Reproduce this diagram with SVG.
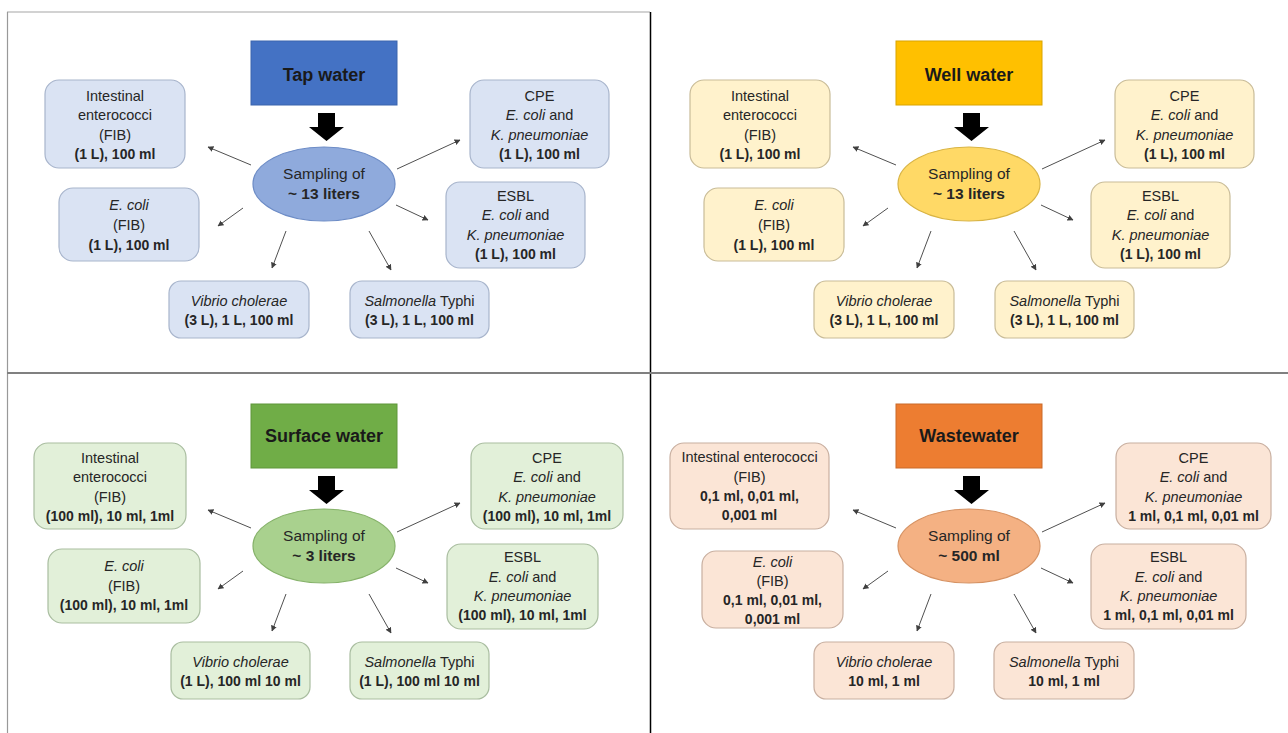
<svg xmlns="http://www.w3.org/2000/svg" width="1288" height="733" viewBox="0 0 1288 733">
<defs>
<marker id="ah" viewBox="0 0 10 10" refX="9" refY="5" markerWidth="6" markerHeight="6" markerUnits="userSpaceOnUse" orient="auto">
<path d="M0,0 L10,5 L0,10 z" fill="#404040"/>
</marker>
<style>
text{font-family:"Liberation Sans",Arial,sans-serif;fill:#262626;text-anchor:middle}
.r{font-size:14.5px}
.b{font-size:14px;font-weight:bold}
.i{font-style:italic}
.t{font-size:18px;font-weight:bold;fill:#1a1a1a}
.e{font-size:15.5px}
.eb{font-size:15.5px;font-weight:bold}
.conn line{stroke:#505050;stroke-width:1;marker-end:url(#ah)}
.blk{fill:#000}
.tap .bx{fill:#dae3f3;stroke:#a8b5cc;stroke-width:1.2}
.tap .ti{fill:#4472c4;stroke:#3b64ad;stroke-width:1}
.tap .el{fill:#8faadc;stroke:#6d8cc6;stroke-width:1.2}
.well .bx{fill:#fff2cc;stroke:#c9bc98;stroke-width:1.2}
.well .ti{fill:#ffc000;stroke:#d9a400;stroke-width:1}
.well .el{fill:#ffd966;stroke:#d9b444;stroke-width:1.2}
.surf .bx{fill:#e2f0d9;stroke:#a9bda0;stroke-width:1.2}
.surf .ti{fill:#70ad47;stroke:#5f963b;stroke-width:1}
.surf .el{fill:#a9d18e;stroke:#86b26a;stroke-width:1.2}
.wast .bx{fill:#fbe5d6;stroke:#c8afa0;stroke-width:1.2}
.wast .ti{fill:#ed7d31;stroke:#c96a2a;stroke-width:1}
.wast .el{fill:#f4b183;stroke:#d69263;stroke-width:1.2}
</style>
</defs>
<rect width="1288" height="733" fill="#fff"/>
<g id="frame">
<line x1="7" y1="12" x2="650" y2="12" stroke="#a6a6a6" stroke-width="1.2"/>
<line x1="7.5" y1="12" x2="7.5" y2="733" stroke="#999" stroke-width="1.2"/>
<line x1="650.5" y1="12" x2="650.5" y2="733" stroke="#000" stroke-width="1.5"/>
<line x1="7" y1="373" x2="1288" y2="373" stroke="#808080" stroke-width="2"/>
</g>

<!-- Tap water -->
<g id="tap" class="tap">
<g class="conn" id="tap-connectors">
<line x1="251" y1="165" x2="208" y2="147"/>
<line x1="243" y1="208" x2="218" y2="226"/>
<line x1="286" y1="231" x2="272" y2="268"/>
<line x1="369" y1="231" x2="391" y2="270"/>
<line x1="396" y1="205" x2="428" y2="220"/>
<line x1="397" y1="169" x2="460" y2="140"/>
<polygon class="blk" points="318,113 335,113 335,127 344,127 326.5,141 309,127 318,127"/>
</g>
<g id="tap-title"><rect class="ti" x="251" y="41" width="146" height="64"/><text class="t" x="324" y="81">Tap water</text></g>
<g id="tap-sampling"><ellipse class="el" cx="324" cy="184" rx="71" ry="37"/><text class="e" x="324" y="179">Sampling of</text><text class="eb" x="324" y="199">~ 13 liters</text></g>
<g id="tap-ie"><rect class="bx" x="45" y="80" width="140" height="88" rx="14"/><text class="r" x="115" y="101">Intestinal</text><text class="r" x="115" y="120">enterococci</text><text class="r" x="115" y="140">(FIB)</text><text class="b" x="115" y="159">(1 L), 100 ml</text></g>
<g id="tap-ecoli"><rect class="bx" x="59" y="188" width="140" height="73" rx="14"/><text class="r i" x="129" y="210">E. coli</text><text class="r" x="129" y="230">(FIB)</text><text class="b" x="129" y="250">(1 L), 100 ml</text></g>
<g id="tap-vibrio"><rect class="bx" x="169" y="281" width="140" height="57" rx="12"/><text class="r i" x="239" y="306">Vibrio cholerae</text><text class="b" x="239" y="325">(3 L), 1 L, 100 ml</text></g>
<g id="tap-salmonella"><rect class="bx" x="350" y="281" width="139" height="57" rx="12"/><text class="r" x="419.5" y="306"><tspan class="i">Salmonella</tspan> Typhi</text><text class="b" x="419.5" y="325">(3 L), 1 L, 100 ml</text></g>
<g id="tap-cpe"><rect class="bx" x="470" y="80" width="139" height="88" rx="14"/><text class="r" x="539.5" y="101">CPE</text><text class="r" x="539.5" y="120"><tspan class="i">E. coli</tspan> and</text><text class="r i" x="539.5" y="140">K. pneumoniae</text><text class="b" x="539.5" y="159">(1 L), 100 ml</text></g>
<g id="tap-esbl"><rect class="bx" x="446" y="182" width="139" height="86" rx="14"/><text class="r" x="515.5" y="201">ESBL</text><text class="r" x="515.5" y="220"><tspan class="i">E. coli</tspan> and</text><text class="r i" x="515.5" y="240">K. pneumoniae</text><text class="b" x="515.5" y="259">(1 L), 100 ml</text></g>
</g>

<!-- Well water -->
<g id="well" class="well" transform="translate(645,0)">
<g class="conn" id="well-connectors">
<line x1="251" y1="165" x2="208" y2="147"/>
<line x1="243" y1="208" x2="218" y2="226"/>
<line x1="286" y1="231" x2="272" y2="268"/>
<line x1="369" y1="231" x2="391" y2="270"/>
<line x1="396" y1="205" x2="428" y2="220"/>
<line x1="397" y1="169" x2="460" y2="140"/>
<polygon class="blk" points="318,113 335,113 335,127 344,127 326.5,141 309,127 318,127"/>
</g>
<g id="well-title"><rect class="ti" x="251" y="41" width="146" height="64"/><text class="t" x="324" y="81">Well water</text></g>
<g id="well-sampling"><ellipse class="el" cx="324" cy="184" rx="71" ry="37"/><text class="e" x="324" y="179">Sampling of</text><text class="eb" x="324" y="199">~ 13 liters</text></g>
<g id="well-ie"><rect class="bx" x="45" y="80" width="140" height="88" rx="14"/><text class="r" x="115" y="101">Intestinal</text><text class="r" x="115" y="120">enterococci</text><text class="r" x="115" y="140">(FIB)</text><text class="b" x="115" y="159">(1 L), 100 ml</text></g>
<g id="well-ecoli"><rect class="bx" x="59" y="188" width="140" height="73" rx="14"/><text class="r i" x="129" y="210">E. coli</text><text class="r" x="129" y="230">(FIB)</text><text class="b" x="129" y="250">(1 L), 100 ml</text></g>
<g id="well-vibrio"><rect class="bx" x="169" y="281" width="140" height="57" rx="12"/><text class="r i" x="239" y="306">Vibrio cholerae</text><text class="b" x="239" y="325">(3 L), 1 L, 100 ml</text></g>
<g id="well-salmonella"><rect class="bx" x="350" y="281" width="139" height="57" rx="12"/><text class="r" x="419.5" y="306"><tspan class="i">Salmonella</tspan> Typhi</text><text class="b" x="419.5" y="325">(3 L), 1 L, 100 ml</text></g>
<g id="well-cpe"><rect class="bx" x="470" y="80" width="139" height="88" rx="14"/><text class="r" x="539.5" y="101">CPE</text><text class="r" x="539.5" y="120"><tspan class="i">E. coli</tspan> and</text><text class="r i" x="539.5" y="140">K. pneumoniae</text><text class="b" x="539.5" y="159">(1 L), 100 ml</text></g>
<g id="well-esbl"><rect class="bx" x="446" y="182" width="139" height="86" rx="14"/><text class="r" x="515.5" y="201">ESBL</text><text class="r" x="515.5" y="220"><tspan class="i">E. coli</tspan> and</text><text class="r i" x="515.5" y="240">K. pneumoniae</text><text class="b" x="515.5" y="259">(1 L), 100 ml</text></g>
</g>

<!-- Surface water -->
<g id="surface" class="surf" transform="translate(0,363)">
<g class="conn" id="surface-connectors">
<line x1="251" y1="165" x2="208" y2="147"/>
<line x1="243" y1="208" x2="218" y2="226"/>
<line x1="286" y1="231" x2="272" y2="268"/>
<line x1="369" y1="231" x2="391" y2="270"/>
<line x1="396" y1="205" x2="428" y2="220"/>
<line x1="397" y1="169" x2="460" y2="140"/>
<polygon class="blk" points="318,113 335,113 335,127 344,127 326.5,141 309,127 318,127"/>
</g>
<g id="surface-title"><rect class="ti" x="251" y="41" width="146" height="64"/><text class="t" x="324" y="79">Surface water</text></g>
<g id="surface-sampling"><ellipse class="el" cx="324" cy="183" rx="71" ry="37"/><text class="e" x="324" y="178">Sampling of</text><text class="eb" x="324" y="198">~ 3 liters</text></g>
<g id="surface-ie"><rect class="bx" x="34" y="80" width="152" height="86" rx="14"/><text class="r" x="110" y="100">Intestinal</text><text class="r" x="110" y="119">enterococci</text><text class="r" x="110" y="139">(FIB)</text><text class="b" x="110" y="158">(100 ml), 10 ml, 1ml</text></g>
<g id="surface-ecoli"><rect class="bx" x="48" y="186" width="152" height="74" rx="14"/><text class="r i" x="124" y="208">E. coli</text><text class="r" x="124" y="228">(FIB)</text><text class="b" x="124" y="247">(100 ml), 10 ml, 1ml</text></g>
<g id="surface-vibrio"><rect class="bx" x="171" y="279" width="139" height="57" rx="12"/><text class="r i" x="240.5" y="304">Vibrio cholerae</text><text class="b" x="240.5" y="323">(1 L), 100 ml 10 ml</text></g>
<g id="surface-salmonella"><rect class="bx" x="350" y="279" width="139" height="57" rx="12"/><text class="r" x="419.5" y="304"><tspan class="i">Salmonella</tspan> Typhi</text><text class="b" x="419.5" y="323">(1 L), 100 ml 10 ml</text></g>
<g id="surface-cpe"><rect class="bx" x="471" y="80" width="152" height="86" rx="14"/><text class="r" x="547" y="100">CPE</text><text class="r" x="547" y="119"><tspan class="i">E. coli</tspan> and</text><text class="r i" x="547" y="139">K. pneumoniae</text><text class="b" x="547" y="158">(100 ml), 10 ml, 1ml</text></g>
<g id="surface-esbl"><rect class="bx" x="447" y="181" width="151" height="85" rx="14"/><text class="r" x="522.5" y="199">ESBL</text><text class="r" x="522.5" y="219"><tspan class="i">E. coli</tspan> and</text><text class="r i" x="522.5" y="238">K. pneumoniae</text><text class="b" x="522.5" y="257">(100 ml), 10 ml, 1ml</text></g>
</g>

<!-- Wastewater -->
<g id="waste" class="wast" transform="translate(645,363)">
<g class="conn" id="waste-connectors">
<line x1="251" y1="165" x2="208" y2="147"/>
<line x1="243" y1="208" x2="218" y2="226"/>
<line x1="286" y1="231" x2="272" y2="268"/>
<line x1="369" y1="231" x2="391" y2="270"/>
<line x1="396" y1="205" x2="428" y2="220"/>
<line x1="397" y1="169" x2="460" y2="140"/>
<polygon class="blk" points="318,113 335,113 335,127 344,127 326.5,141 309,127 318,127"/>
</g>
<g id="waste-title"><rect class="ti" x="251" y="41" width="146" height="64"/><text class="t" x="324" y="79">Wastewater</text></g>
<g id="waste-sampling"><ellipse class="el" cx="324" cy="183" rx="71" ry="37"/><text class="e" x="324" y="178">Sampling of</text><text class="eb" x="324" y="198">~ 500 ml</text></g>
<g id="waste-ie"><rect class="bx" x="25" y="80" width="159" height="86" rx="14"/><text class="r" x="104.5" y="99">Intestinal enterococci</text><text class="r" x="104.5" y="119">(FIB)</text><text class="b" x="104.5" y="138">0,1 ml, 0,01 ml,</text><text class="b" x="104.5" y="157">0,001 ml</text></g>
<g id="waste-ecoli"><rect class="bx" x="57" y="188" width="141" height="77" rx="14"/><text class="r i" x="127.5" y="204">E. coli</text><text class="r" x="127.5" y="223">(FIB)</text><text class="b" x="127.5" y="242">0,1 ml, 0,01 ml,</text><text class="b" x="127.5" y="261">0,001 ml</text></g>
<g id="waste-vibrio"><rect class="bx" x="169" y="279" width="140" height="57" rx="12"/><text class="r i" x="239" y="304">Vibrio cholerae</text><text class="b" x="239" y="323">10 ml, 1 ml</text></g>
<g id="waste-salmonella"><rect class="bx" x="349" y="279" width="140" height="57" rx="12"/><text class="r" x="419" y="304"><tspan class="i">Salmonella</tspan> Typhi</text><text class="b" x="419" y="323">10 ml, 1 ml</text></g>
<g id="waste-cpe"><rect class="bx" x="471" y="80" width="155" height="86" rx="14"/><text class="r" x="548.5" y="100">CPE</text><text class="r" x="548.5" y="119"><tspan class="i">E. coli</tspan> and</text><text class="r i" x="548.5" y="139">K. pneumoniae</text><text class="b" x="548.5" y="158">1 ml, 0,1 ml, 0,01 ml</text></g>
<g id="waste-esbl"><rect class="bx" x="446" y="181" width="155" height="85" rx="14"/><text class="r" x="523.5" y="199">ESBL</text><text class="r" x="523.5" y="219"><tspan class="i">E. coli</tspan> and</text><text class="r i" x="523.5" y="238">K. pneumoniae</text><text class="b" x="523.5" y="257">1 ml, 0,1 ml, 0,01 ml</text></g>
</g>
</svg>
